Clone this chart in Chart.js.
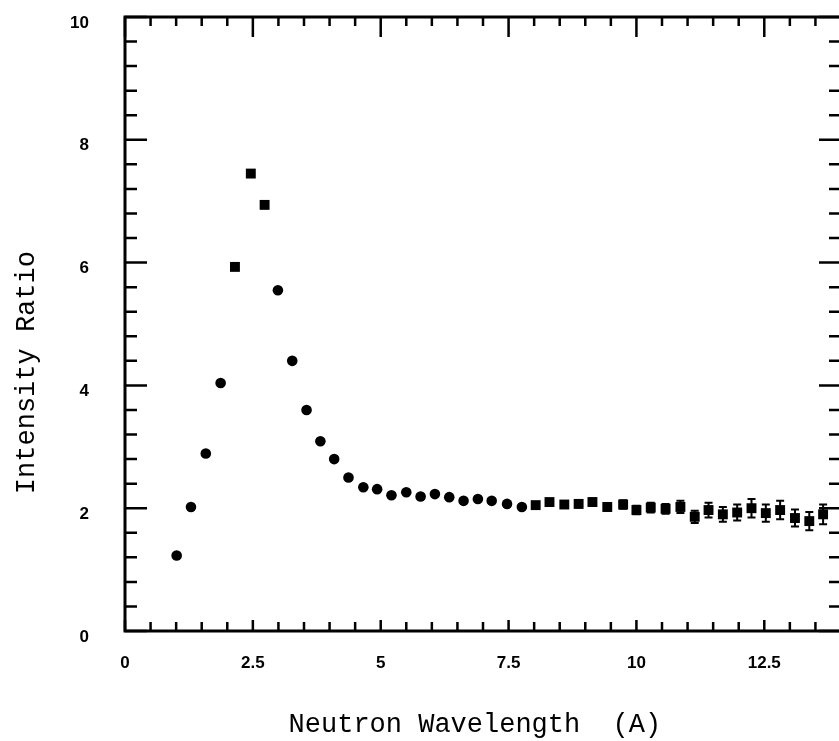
<!DOCTYPE html>
<html><head><meta charset="utf-8">
<script src="https://cdn.jsdelivr.net/npm/chart.js@4/dist/chart.umd.min.js"></script>
<style>html,body{margin:0;padding:0;background:#fff;overflow:hidden;}#wrap{width:839px;height:741px;overflow:hidden;}canvas{display:block;}</style>
</head><body>
<div id="wrap"><canvas id="c" width="848" height="741"></canvas></div>
<script>
const wavelength = [1.01, 1.29, 1.58, 1.87, 2.15, 2.46, 2.73, 2.99, 3.27, 3.55, 3.82, 4.09, 4.37, 4.66, 4.93, 5.21, 5.50, 5.78, 6.06, 6.34, 6.62, 6.90, 7.17, 7.47, 7.76, 8.03, 8.30, 8.59, 8.87, 9.14, 9.43, 9.74, 10.00, 10.28, 10.57, 10.86, 11.14, 11.41, 11.69, 11.97, 12.25, 12.53, 12.81, 13.10, 13.38, 13.65];
const intensityRatio = [1.23, 2.02, 2.89, 4.04, 5.93, 7.45, 6.94, 5.55, 4.40, 3.60, 3.09, 2.80, 2.50, 2.34, 2.31, 2.21, 2.26, 2.19, 2.23, 2.18, 2.12, 2.15, 2.12, 2.07, 2.02, 2.05, 2.10, 2.06, 2.07, 2.10, 2.02, 2.06, 1.97, 2.01, 1.99, 2.02, 1.86, 1.97, 1.90, 1.93, 2.00, 1.92, 1.97, 1.84, 1.79, 1.90];
const ratioError = [0.03, 0.03, 0.03, 0.03, 0.03, 0.03, 0.03, 0.03, 0.03, 0.03, 0.03, 0.03, 0.03, 0.03, 0.03, 0.03, 0.03, 0.03, 0.03, 0.03, 0.03, 0.03, 0.03, 0.03, 0.03, 0.05, 0.05, 0.05, 0.06, 0.06, 0.06, 0.07, 0.07, 0.08, 0.08, 0.10, 0.10, 0.12, 0.12, 0.13, 0.15, 0.14, 0.15, 0.14, 0.15, 0.16];
const xTickValues = [0, 2.5, 5, 7.5, 10, 12.5];
const yTickValues = [0, 2, 4, 6, 8, 10];
const xAxisTitle = 'Neutron Wavelength  (A)';
const yAxisTitle = 'Intensity Ratio';

const points = wavelength.map((w, i) => ({x: w, y: intensityRatio[i]}));
const isSquare = w => (w > 2.0 && w < 2.9) || w > 7.9;

const frame = {
  id: 'frame',
  beforeDatasetsDraw(chart) {
    const {ctx, chartArea: {left, right, top, bottom}, scales: {x, y}} = chart;
    ctx.save();
    ctx.strokeStyle = '#000';
    ctx.lineWidth = 3;
    ctx.strokeRect(left, top, right - left, bottom - top);
    ctx.lineWidth = 2.5;
    ctx.beginPath();
    for (let k = 0; k * 0.5 <= x.max + 1e-9; k++) {
      const px = x.getPixelForValue(k * 0.5);
      const major = k % 5 === 0;
      ctx.moveTo(px, top); ctx.lineTo(px, top + (major ? 20 : 9));
      ctx.moveTo(px, bottom); ctx.lineTo(px, bottom - (major ? 11 : 9));
    }
    for (let k = 0; k * 0.4 <= y.max + 1e-9; k++) {
      const py = y.getPixelForValue(k * 0.4);
      const major = k % 5 === 0;
      ctx.moveTo(left, py); ctx.lineTo(left + (major ? 22 : 12), py);
      ctx.moveTo(right, py); ctx.lineTo(right - (major ? 22 : 12), py);
    }
    ctx.stroke();
    ctx.restore();
  }
};

const errorBars = {
  id: 'errorBars',
  afterDatasetsDraw(chart) {
    const {ctx, scales: {x, y}} = chart;
    ctx.save();
    ctx.strokeStyle = '#000';
    ctx.lineWidth = 2;
    ctx.beginPath();
    wavelength.forEach((w, i) => {
      const px = x.getPixelForValue(w);
      const pt = y.getPixelForValue(intensityRatio[i] + ratioError[i]);
      const pb = y.getPixelForValue(intensityRatio[i] - ratioError[i]);
      ctx.moveTo(px, pt); ctx.lineTo(px, pb);
      ctx.moveTo(px - 4, pt); ctx.lineTo(px + 4, pt);
      ctx.moveTo(px - 4, pb); ctx.lineTo(px + 4, pb);
    });
    ctx.stroke();
    ctx.restore();
  }
};

const zeroPad = s => { s.paddingTop = 0; s.paddingBottom = 0; s.paddingLeft = 0; s.paddingRight = 0; };
const tickFont = {family: '"Liberation Sans", Arial, sans-serif', weight: 'bold', size: 17};
const titleFont = {family: '"Liberation Mono", "Courier New", monospace', size: 27, lineHeight: 1.2};

new Chart(document.getElementById('c'), {
  type: 'scatter',
  data: {
    datasets: [{
      data: points,
      backgroundColor: '#000',
      borderColor: '#000',
      borderWidth: 0,
      pointStyle: ctx => (ctx.raw && isSquare(ctx.raw.x)) ? 'rect' : 'circle',
      pointRadius: ctx => (ctx.raw && isSquare(ctx.raw.x)) ? 7 : 5.3,
      pointHoverRadius: ctx => (ctx.raw && isSquare(ctx.raw.x)) ? 7 : 5.3,
      clip: false
    }]
  },
  options: {
    responsive: false,
    animation: false,
    events: [],
    layout: {padding: {top: 17, right: 1, left: 0, bottom: 0}},
    plugins: {legend: {display: false}, tooltip: {enabled: false}},
    scales: {
      x: {
        type: 'linear', min: 0, max: 14,
        afterBuildTicks(s) { s.ticks = xTickValues.map(v => ({value: v})); },
        afterFit(s) { s.height = 110; zeroPad(s); },
        grid: {display: false, drawTicks: false},
        border: {display: false},
        ticks: {autoSkip: false, maxRotation: 0, padding: 22, color: '#000', font: tickFont, callback: v => String(v)},
        title: {display: true, text: xAxisTitle + ' ', color: '#000', font: titleFont, padding: {top: 0, bottom: 0}}
      },
      y: {
        type: 'linear', min: 0, max: 10,
        afterBuildTicks(s) { s.ticks = yTickValues.map(v => ({value: v})); },
        afterFit(s) { s.width = 125; zeroPad(s); },
        grid: {display: false, drawTicks: false},
        border: {display: false},
        ticks: {autoSkip: false, padding: 36, labelOffset: 6, color: '#000', font: tickFont, callback: v => String(v)},
        title: {display: true, text: yAxisTitle + '      ', color: '#000', font: titleFont, padding: {top: 11, bottom: 0}}
      }
    }
  },
  plugins: [frame, errorBars]
});
</script>
</body></html>
